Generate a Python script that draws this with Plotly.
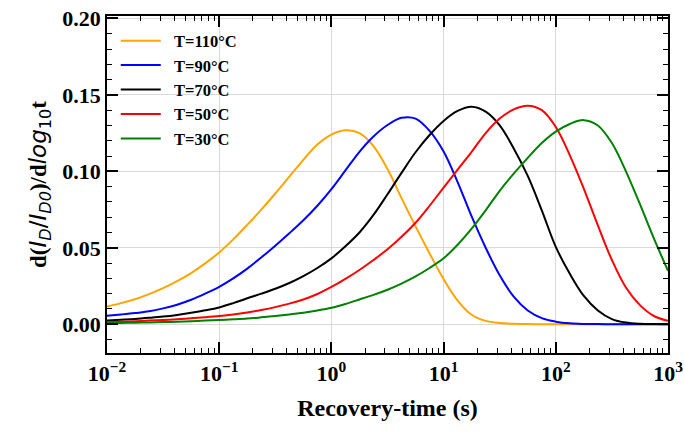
import plotly.graph_objects as go

# Sampling positions in decades of recovery time (s), every 1/8 decade
log_t = [-2.0, -1.875, -1.75, -1.625, -1.5, -1.375, -1.25, -1.125, -1.0, -0.875, -0.75,
         -0.625, -0.5, -0.375, -0.25, -0.125, 0.0, 0.125, 0.25, 0.375, 0.5,
         0.625, 0.75, 0.875, 1.0, 1.125, 1.25, 1.375, 1.5, 1.625, 1.75,
         1.875, 2.0, 2.125, 2.25, 2.375, 2.5, 2.625, 2.75, 2.875, 3.0]
t = [10 ** v for v in log_t]

# Relaxation-rate curves d(I_D/I_D0)/dlog10(t) for each temperature
d_110 = [0.0116, 0.0138, 0.0164, 0.0197, 0.0236, 0.0282, 0.0335, 0.0398, 0.0470, 0.0555, 0.0650,
         0.0750, 0.0855, 0.0965, 0.1075, 0.1175, 0.1240, 0.1268, 0.1250, 0.1165, 0.1015,
         0.0825, 0.0640, 0.0463, 0.0295, 0.0155, 0.0062, 0.0022, 0.0008, 0.0003, 0.0001,
         0.0, 0.0, 0.0, 0.0, 0.0, 0.0, 0.0, 0.0, 0.0, 0.0]
d_90 = [0.0056, 0.0064, 0.0073, 0.0085, 0.0104, 0.0128, 0.0160, 0.0200, 0.0245, 0.0300, 0.0364,
        0.0437, 0.0514, 0.0595, 0.0680, 0.0775, 0.0884, 0.1006, 0.1128, 0.1228, 0.1303,
        0.1350, 0.1345, 0.1265, 0.1130, 0.0930, 0.0705, 0.0500, 0.0320, 0.0180, 0.0090,
        0.0040, 0.0017, 0.0006, 0.0002, 0.0001, 0.0, 0.0, 0.0, 0.0, 0.0]
d_70 = [0.0025, 0.0030, 0.0035, 0.0042, 0.0050, 0.0061, 0.0075, 0.0091, 0.0110, 0.0138, 0.0170,
        0.0200, 0.0232, 0.0270, 0.0315, 0.0368, 0.0431, 0.0510, 0.0600, 0.0715, 0.0850,
        0.0990, 0.1125, 0.1238, 0.1330, 0.1395, 0.1422, 0.1390, 0.1300, 0.1150, 0.0970,
        0.0745, 0.0506, 0.0330, 0.0185, 0.0090, 0.0034, 0.0011, 0.0003, 0.0001, 0.0]
d_50 = [0.0015, 0.0017, 0.0020, 0.0024, 0.0028, 0.0033, 0.0039, 0.0046, 0.0054, 0.0064, 0.0077,
        0.0093, 0.0112, 0.0135, 0.0162, 0.0198, 0.0244, 0.0297, 0.0355, 0.0420, 0.0490,
        0.0572, 0.0664, 0.0775, 0.0894, 0.1012, 0.1128, 0.1250, 0.1345, 0.1405, 0.1429,
        0.1400, 0.1290, 0.1105, 0.0886, 0.0647, 0.0420, 0.0240, 0.0125, 0.0054, 0.0023]
d_30 = [0.0008, 0.0009, 0.0010, 0.0012, 0.0014, 0.0017, 0.0020, 0.0024, 0.0028, 0.0032, 0.0037,
        0.0045, 0.0054, 0.0064, 0.0075, 0.0090, 0.0108, 0.0133, 0.0162, 0.0192, 0.0226,
        0.0266, 0.0313, 0.0368, 0.0431, 0.0520, 0.0625, 0.0745, 0.0873, 0.0985, 0.1088,
        0.1185, 0.1260, 0.1310, 0.1335, 0.1300, 0.1185, 0.1000, 0.0785, 0.0560, 0.0350]

series_names = ["T=110°C", "T=90°C", "T=70°C", "T=50°C", "T=30°C"]
series_values = [d_110, d_90, d_70, d_50, d_30]
series_colors = ["#FFA500", "#0000FF", "#000000", "#FF0000", "#008000"]

x_tick_vals = [1e-2, 1e-1, 1e0, 1e1, 1e2, 1e3]
x_tick_text = ["10<sup>−2</sup>", "10<sup>−1</sup>", "10<sup>0</sup>",
               "10<sup>1</sup>", "10<sup>2</sup>", "10<sup>3</sup>"]
y_tick_vals = [0.0, 0.05, 0.10, 0.15, 0.20]

SERIF = "Liberation Serif"
NBSP = "\u00a0\u00a0"

fig = go.Figure()
for name, vals, col in zip(series_names, series_values, series_colors):
    fig.add_trace(go.Scatter(
        x=t, y=vals, name=NBSP + name, mode="lines",
        line=dict(color=col, width=2, shape="spline", smoothing=1.0, simplify=False),
    ))

axis_common = dict(
    showline=True, linecolor="black", linewidth=1.6, mirror="ticks",
    ticks="inside", ticklen=11, tickwidth=1.5, tickcolor="black",
    showgrid=True, gridcolor="#d9d9d9", gridwidth=1.4, zeroline=False,
    automargin=False,
    tickfont=dict(family=SERIF, size=22, color="black", weight="bold"),
)

y_title = ("d(<span style='font-family:DejaVu Sans;font-weight:normal'>"
           "<i>I</i><sub><i>D</i></sub>/<i>I</i><sub><i>D0</i></sub></span>)/d"
           "<span style='font-family:DejaVu Sans;font-weight:normal'>"
           "<i>log</i><sub>10</sub></span>t")

fig.update_xaxes(
    type="log", range=[-2, 3],
    tickvals=x_tick_vals, ticktext=x_tick_text,
    minor=dict(ticks="inside", ticklen=5.5, tickwidth=1.3, tickcolor="black",
               dtick="D1", showgrid=False),
    title=dict(text="Recovery-time (s)", standoff=14,
               font=dict(family=SERIF, size=24, color="black", weight="bold")),
    **axis_common,
)
fig.update_yaxes(
    range=[-0.0188, 0.2016], tickvals=y_tick_vals, tickformat=".2f",
    minor=dict(ticks="inside", ticklen=5.5, tickwidth=1.3, tickcolor="black",
               dtick=0.01, showgrid=False),
    title=dict(text=y_title, standoff=9,
               font=dict(family=SERIF, size=23, color="black", weight="bold")),
    **axis_common,
)

fig.update_layout(
    width=684, height=435,
    margin=dict(l=107, r=16, t=16, b=82),
    paper_bgcolor="white", plot_bgcolor="white",
    showlegend=True,
    legend=dict(
        x=0.0156, y=0.978, xanchor="left", yanchor="top",
        bgcolor="rgba(255,255,255,0)", borderwidth=0,
        font=dict(family=SERIF, size=16.5, color="black", weight="bold"),
        itemwidth=40, tracegroupgap=0,
    ),
)

fig.write_html("out.html")
